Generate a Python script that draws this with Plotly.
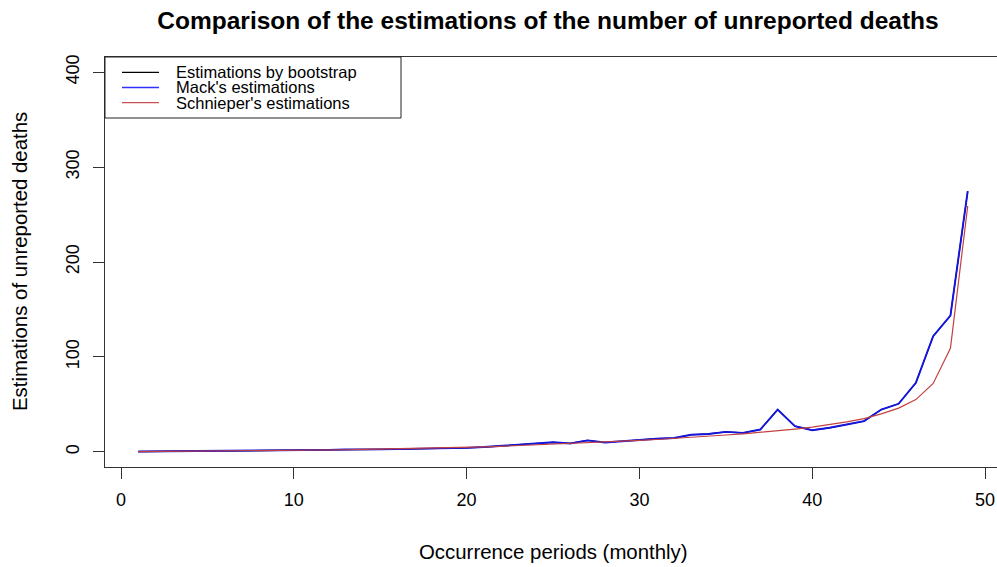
import plotly.graph_objects as go

# Occurrence periods (months 1..49)
periods = list(range(1, 50))

# Estimated number of unreported deaths per occurrence period
bootstrap = [0.3, 0.4, 0.5, 0.8, 0.9, 1.0, 1.1, 1.2, 1.3, 1.5,
             1.8, 2.0, 2.4, 2.2, 2.6, 2.8, 3.0, 3.3, 3.8, 4.2,
             5.0, 6.4, 7.6, 8.8, 10.0, 8.8, 12.0, 9.8, 11.2, 12.8,
             13.8, 14.5, 18.0, 18.8, 21.0, 20.0, 23.5, 44.5, 27.0, 22.8,
             25.3, 28.8, 32.3, 44.6, 50.6, 72.7, 121.8, 143.6, 274.6]
mack = [0.3, 0.4, 0.5, 0.8, 0.9, 1.0, 1.1, 1.2, 1.3, 1.5,
        1.8, 2.0, 2.4, 2.2, 2.6, 2.8, 3.0, 3.3, 3.8, 4.2,
        5.0, 6.4, 7.6, 8.8, 10.0, 8.8, 12.0, 9.8, 11.2, 12.8,
        13.8, 14.5, 18.0, 18.8, 21.0, 20.0, 23.5, 44.5, 27.0, 22.8,
        25.3, 28.8, 32.3, 44.6, 50.6, 72.7, 121.8, 143.6, 274.6]
schnieper = [0.3, 0.4, 0.5, 0.6, 0.8, 0.9, 1.0, 1.2, 1.3, 1.5,
             1.8, 2.0, 2.2, 2.5, 2.8, 3.1, 3.4, 3.8, 4.2, 4.7,
             5.2, 5.8, 6.5, 7.2, 7.9, 8.7, 9.3, 10.0, 11.0, 12.0,
             13.0, 14.0, 15.2, 16.4, 17.7, 19.0, 20.5, 22.2, 24.0, 26.0,
             28.5, 31.5, 35.0, 40.0, 46.0, 55.0, 72.0, 109.0, 259.0]

x_ticks = [0, 10, 20, 30, 40, 50]
y_ticks = [0, 100, 200, 300, 400]

legend_labels = ["Estimations by bootstrap", "Mack's estimations", "Schnieper's estimations"]
legend_colors = ["#000000", "#3030ff", "#c85050"]

FONT = "Liberation Sans, Arial, Helvetica, sans-serif"
W, H = 997, 567
L, T, B = 105, 57, 467          # plot region edges in pixels
PW, PH = W - L, B - T


def px(xp):
    return (xp - L) / PW


def py(yp):
    return (B - yp) / PH


fig = go.Figure()
fig.add_trace(go.Scatter(x=periods, y=bootstrap, mode="lines",
                         line=dict(color="#000000", width=1.2), name=legend_labels[0]))
fig.add_trace(go.Scatter(x=periods, y=mack, mode="lines",
                         line=dict(color="#1414e0", width=1.9), name=legend_labels[1]))
fig.add_trace(go.Scatter(x=periods, y=schnieper, mode="lines",
                         line=dict(color="#c04040", width=1.2), name=legend_labels[2]))

# hand-drawn legend box in the top-left corner
shapes = [dict(type="rect", xref="paper", yref="paper",
               x0=px(105), x1=px(401), y0=py(118), y1=py(57),
               line=dict(color="#222222", width=1), fillcolor="white", layer="above")]
annotations = []
row_y = [72.3, 87.5, 102.7]
for lab, col, yy in zip(legend_labels, legend_colors, row_y):
    shapes.append(dict(type="line", xref="paper", yref="paper",
                       x0=px(122), x1=px(159), y0=py(yy), y1=py(yy),
                       line=dict(color=col, width=1.3), layer="above"))
    annotations.append(dict(text=lab, xref="paper", yref="paper",
                            x=px(175), y=py(yy), xanchor="left", yanchor="middle",
                            borderpad=0,
                            showarrow=False, font=dict(family=FONT, size=16.5, color="#000")))

# axis titles
annotations.append(dict(text="Occurrence periods (monthly)", xref="paper", yref="paper",
                        x=px(553), y=py(552), xanchor="center", yanchor="middle",
                        showarrow=False, font=dict(family=FONT, size=20.4, color="#000")))
annotations.append(dict(text="Estimations of unreported deaths", xref="paper", yref="paper",
                        x=px(20), y=py(262), xanchor="center", yanchor="middle",
                        textangle=-90, showarrow=False,
                        font=dict(family=FONT, size=20.4, color="#000")))

x_lo = (L - 121) / 17.28
x_hi = (W - 121) / 17.28

fig.update_layout(
    width=W, height=H,
    margin=dict(l=L, r=0, t=T, b=H - B, pad=0),
    paper_bgcolor="white", plot_bgcolor="white",
    showlegend=False,
    title=dict(text="<b>Comparison of the estimations of the number of unreported deaths</b>",
               x=px(548), xref="paper", xanchor="center",
               y=1 - 20 / H, yref="container", yanchor="middle",
               font=dict(family=FONT, size=24.5, color="#000")),
    xaxis=dict(range=[x_lo, x_hi], tickvals=x_ticks, showgrid=False, zeroline=False,
               showline=True, mirror=True, linecolor="#333333", linewidth=1,
               ticks="outside", ticklen=11, tickcolor="#333333",
               tickfont=dict(family=FONT, size=18, color="#000"), ticklabelstandoff=5),
    yaxis=dict(range=[-16, 416], tickvals=y_ticks, showgrid=False, zeroline=False,
               showline=True, mirror=False, linecolor="#333333", linewidth=1,
               ticks="outside", ticklen=11, tickcolor="#333333", tickangle=-90,
               tickfont=dict(family=FONT, size=18, color="#000"), ticklabelstandoff=7),
    shapes=shapes,
    annotations=annotations,
)

fig.write_html("out.html")
